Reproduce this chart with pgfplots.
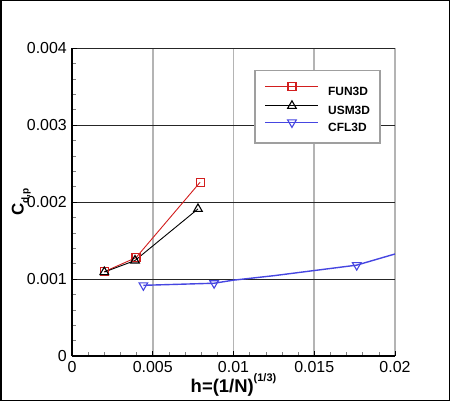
\documentclass[border=0pt]{standalone}
\usepackage{fontspec}
\setmainfont{Liberation Sans}
\usepackage{pgfplots}
\pgfplotsset{compat=1.18}

\definecolor{funred}{RGB}{210,30,30}
\definecolor{cflblue}{RGB}{70,70,225}
\definecolor{gridgray}{RGB}{180,180,180}

\begin{document}
\begin{tikzpicture}
\useasboundingbox (0,0) rectangle (450bp,401bp);
\begin{axis}[
    at={(72bp,45bp)}, anchor=south west,
    scale only axis,
    width=323bp, height=308bp,
    xmin=0, xmax=0.02,
    ymin=0, ymax=0.004,
    axis x line=bottom, axis y line=left,
    axis line style={-, black, line width=1.6bp},
    xtick={0,0.005,0.01,0.015,0.02},
    ytick={0,0.001,0.002,0.003,0.004},
    minor x tick num=4, minor y tick num=4,
    tick align=inside,
    major tick length=5bp, minor tick length=4bp,
    tick style={black, line width=0.6bp},
    minor tick style={gray, line width=0.6bp},
    scaled ticks=false,
    /pgf/number format/fixed,
    /pgf/number format/precision=3,
    /pgf/number format/assume math mode=true,
    tick label style={font=\fontsize{16}{16}\selectfont},
    xticklabel style={anchor=north, inner sep=0pt, yshift=-5bp},
    yticklabel style={anchor=east, inner sep=0pt, xshift=-5bp},
    xmajorgrids, ymajorgrids,
    major x grid style={gridgray, line width=1.8bp},
    major y grid style={black!85, line width=0.6bp},
    xlabel={h=(1/N)\raisebox{0.55em}{\fontsize{11}{11}\selectfont(1/3)}},
    every axis x label/.style={at={(axis description cs:0.5,0)}, anchor=base, inner sep=0pt,
        yshift=-36bp, font=\bfseries\fontsize{18.5}{18.5}\selectfont},
    ylabel={C\raisebox{-0.3em}{\fontsize{10}{10}\selectfont d,p}},
    every axis y label/.style={at={(axis description cs:-0.1269,0.5)}, rotate=90,
        anchor=south, inner sep=0pt, font=\bfseries\fontsize{17}{17}\selectfont},
    legend image code/.code={
        \draw[mark repeat=2, mark phase=2, #1] plot coordinates {(0bp,4.3bp) (26.5bp,4.3bp) (53bp,4.3bp)};
    },
    legend cell align=left,
    legend style={at={(rel axis cs:0.5635,0.9286)}, anchor=north west,
        draw=gray!75, line width=1.5bp, fill=white,
        font=\bfseries\fontsize{12}{12}\selectfont,
        inner xsep=10bp, inner ysep=12bp, row sep=5.5bp, column sep=9bp,
        nodes={inner sep=0pt, text height=8.6bp, text depth=0bp}},
]
\addplot[funred, line width=0.9bp, mark=square, mark size=4bp,
    mark options={solid, fill=white, line width=1.1bp}]
    coordinates {(0.002,0.001095) (0.00396,0.001277) (0.00793,0.002256)};
\addlegendentry{FUN3D}

\addplot[black, line width=0.9bp, mark=triangle, mark size=5bp,
    mark options={solid, fill=white, line width=1.1bp}]
    coordinates {(0.002,0.00109) (0.0039,0.00124) (0.0078,0.00191)};
\addlegendentry{USM3D}

% CFL3D curve as drawn, marks only at the grid levels
\addplot[cflblue, line width=1.4bp, forget plot]
    coordinates {(0.00442,0.000918) (0.0088,0.000945) (0.01,0.000985)
                 (0.0125,0.001043) (0.015,0.00111) (0.01763,0.00118) (0.02,0.001325)};
\addplot[cflblue, only marks, mark=triangle, mark size=5bp,
    mark options={solid, rotate=180, fill=white, line width=1.1bp}, forget plot]
    coordinates {(0.00442,0.000918) (0.0088,0.000945) (0.01763,0.00118)};
\addlegendimage{cflblue, line width=1.4bp, mark=triangle, mark size=5bp,
    mark options={solid, rotate=180, fill=white, line width=1.1bp}}
\addlegendentry{CFL3D}
\end{axis}
\draw[black, line width=1.5bp] (0.75bp,0.75bp) rectangle (449.25bp,400.25bp);
\end{tikzpicture}
\end{document}
